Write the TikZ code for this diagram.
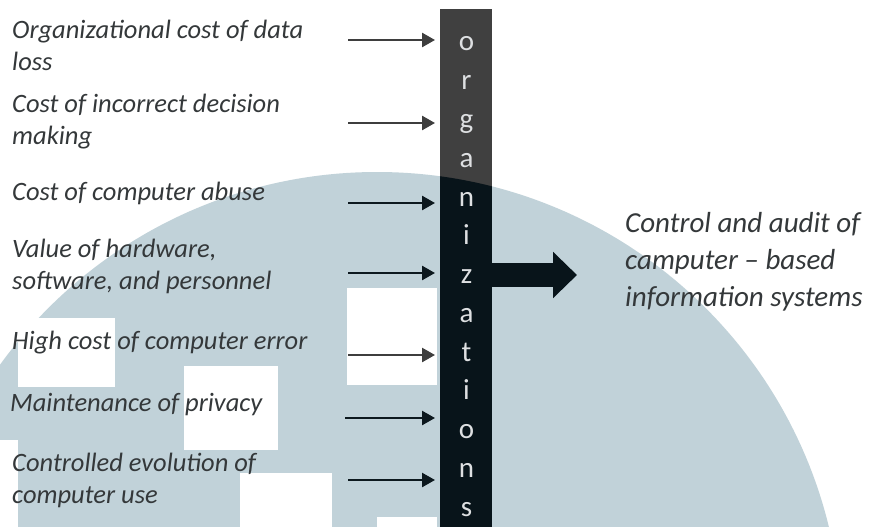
\documentclass[tikz,border=0pt]{standalone}
\usepackage{fontspec}
\setmainfont{Carlito}
\usetikzlibrary{arrows.meta}

\definecolor{wmark}{RGB}{193,210,217}
\definecolor{inktext}{RGB}{52,56,58}
\definecolor{inkgray}{RGB}{62,62,62}
\definecolor{inkdark}{RGB}{12,24,30}
\definecolor{bargray}{RGB}{64,64,64}
\definecolor{bardark}{RGB}{8,20,26}
\definecolor{barletter}{RGB}{222,224,226}

\begin{document}
\begin{tikzpicture}[x=1pt,y=-1pt,
  item/.style={anchor=west, align=left, inner sep=0pt, text=inktext,
    font=\fontsize{26.5}{32}\selectfont\itshape},
  result/.style={anchor=west, align=left, inner sep=0pt, text=inktext,
    font=\fontsize{29}{37}\selectfont\itshape},
  letter/.style={anchor=base, inner sep=0pt, text=barletter,
    font=\fontsize{29}{29}\selectfont},
  inarrow/.style={line width=2.5pt, shorten >=5pt,
    -{Triangle[length=13pt,width=14pt]}},
  bigarrow/.style={line width=24pt, draw=bardark,
    -{Triangle[length=24pt,width=45pt]}}
]
\useasboundingbox (0,0) rectangle (870,527);
\fill[white] (0,0) rectangle (870,527);

% background emblem: large disc with square cut-outs
\begin{scope}
  \clip (0,0) rectangle (870,527);
  \fill[wmark] (377,637) circle[radius=465pt];
  \fill[white] (347,288) rectangle (437,385);
  \fill[white] (184,366) rectangle (278,450);
  \fill[white] (18,318) rectangle (115,387);
  \fill[white] (240,473) rectangle (332,530);
  \fill[white] (377,517) rectangle (437,530);
  \fill[white] (0,440) rectangle (18,530);
\end{scope}

% vertical bar with the word spelled downwards
\node[fill=bargray, minimum width=52pt, minimum height=530pt, inner sep=0pt,
  anchor=north west] (bar) at (440,9) {};
\begin{scope}
  \clip (377,637) circle[radius=465pt];
  \fill[bardark] (bar.north west) rectangle (bar.south east);
\end{scope}
\foreach \ch [count=\i] in {o,r,g,a,n,i,z,a,t,i,o,n,s}
  \node[letter] (l\i) at (466.5,{51+38.75*(\i-1)}) {\ch};

% factors on the left
\node[item] (t1) at (12,45)  {Organizational cost of data\\loss};
\node[item] (t2) at (12,122) {Cost of incorrect decision\\making};
\node[item] (t3) at (12,193) {Cost of computer abuse};
\node[item] (t4) at (12,266) {Value of hardware,\\software, and personnel};
\node[item] (t5) at (12,343) {High cost of computer error};
\node[item] (t6) at (10,405) {Maintenance of privacy};
\node[item] (t7) at (12,480) {Controlled evolution of\\computer use};

\coordinate (a1) at (348,40);
\coordinate (a2) at (348,123);
\coordinate (a3) at (348,203);
\coordinate (a4) at (348,273);
\coordinate (a5) at (348,355);
\coordinate (a6) at (345,418);
\coordinate (a7) at (348,480);

\draw[inarrow, inkgray] (a1) -- (a1 -| bar.west);
\draw[inarrow, inkgray] (a2) -- (a2 -| bar.west);
\draw[inarrow, inkdark] (a3) -- (a3 -| bar.west);
\draw[inarrow, inkdark] (a4) -- (a4 -| bar.west);
\draw[inarrow, inkgray] (a5) -- (a5 -| bar.west);
\draw[inarrow, inkdark] (a6) -- (a6 -| bar.west);
\draw[inarrow, inkdark] (a7) -- (a7 -| bar.west);

% outcome on the right
\coordinate (out) at (577,275);
\draw[bigarrow] (out -| bar.east) -- (out);
\node[result] (res) at (625,262) {Control and audit of\\camputer – based\\information systems};
\end{tikzpicture}
\end{document}
